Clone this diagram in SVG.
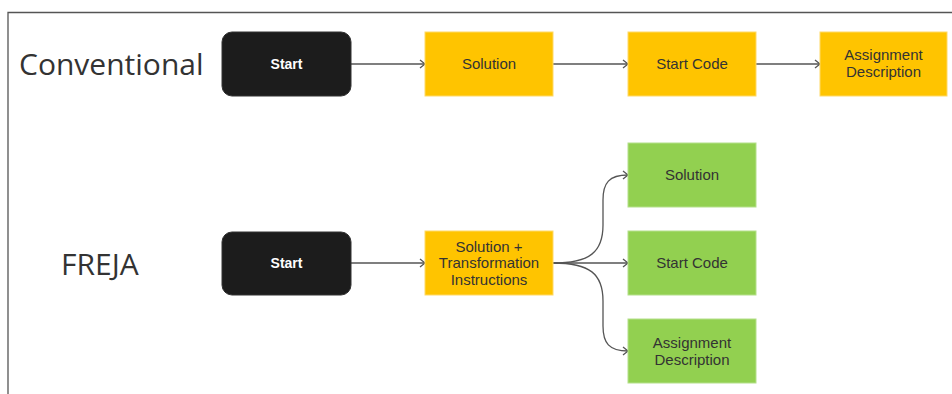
<svg xmlns="http://www.w3.org/2000/svg" width="952" height="394" viewBox="0 0 952 394">
<style>
.frame{stroke:#555;stroke-width:1.3;fill:none}
.title{font-family:"Open Sans","DejaVu Sans",sans-serif;font-size:30px;fill:#333}
.start{fill:#1c1c1c;stroke:#333;stroke-width:1}
.yel{fill:#ffc400;stroke:#ffd966;stroke-width:1}
.grn{fill:#92d050;stroke:#b4e08a;stroke-width:1}
.lbl{font-family:"Liberation Sans",Arial,sans-serif;font-size:15px;fill:#333;text-anchor:middle}
.wlbl{font-family:"Liberation Sans",Arial,sans-serif;font-size:14px;font-weight:bold;fill:#fff;text-anchor:middle}
.edge{stroke:#555;stroke-width:1.3;fill:none;marker-end:url(#arr)}
</style>
<defs>
<marker id="arr" markerWidth="10" markerHeight="10" refX="8" refY="5" orient="auto" markerUnits="userSpaceOnUse">
<path d="M3,1 L8,5 L3,9" fill="none" stroke="#555" stroke-width="1.3"/>
</marker>
</defs>
<rect width="952" height="394" fill="#fff"/>
<path class="frame" d="M8,394 L8,12.5 L952,12.5"/>
<text class="title" x="19" y="75">Conventional</text>
<text class="title" x="61" y="275">FREJA</text>
<g id="connectors">
<path class="edge" d="M351,64 L425,64"/>
<path class="edge" d="M553,64 L628,64"/>
<path class="edge" d="M756,64 L820,64"/>
<path class="edge" d="M351,263 L425,263"/>
<path class="edge" d="M553,263 L628,263"/>
<path class="edge" d="M553,263 C590,263 603,252 603,225 L603,200 C603,183 609,175 628,175"/>
<path class="edge" d="M553,263 C590,263 603,274 603,301 L603,326 C603,343 609,351 628,351"/>
</g>
<g id="c-start"><rect class="start" x="222" y="32" width="129" height="64" rx="10"/><text class="wlbl" x="286.5" y="69">Start</text></g>
<g id="c-solution"><rect class="yel" x="425" y="32" width="128" height="64"/><text class="lbl" x="489" y="69.3">Solution</text></g>
<g id="c-startcode"><rect class="yel" x="628" y="32" width="128" height="64"/><text class="lbl" x="692" y="69.3">Start Code</text></g>
<g id="c-assign"><rect class="yel" x="820" y="32" width="127" height="64"/><text class="lbl" x="883.5" y="60">Assignment</text><text class="lbl" x="883.5" y="77.3">Description</text></g>
<g id="f-start"><rect class="start" x="222" y="232" width="129" height="63" rx="10"/><text class="wlbl" x="286.5" y="268">Start</text></g>
<g id="f-soltrans"><rect class="yel" x="425" y="231" width="128" height="64"/><text class="lbl" x="489" y="251.5">Solution +</text><text class="lbl" x="489" y="268.3">Transformation</text><text class="lbl" x="489" y="285">Instructions</text></g>
<g id="f-solution"><rect class="grn" x="628" y="143" width="128" height="64"/><text class="lbl" x="692" y="180.3">Solution</text></g>
<g id="f-startcode"><rect class="grn" x="628" y="231" width="128" height="64"/><text class="lbl" x="692" y="268.3">Start Code</text></g>
<g id="f-assign"><rect class="grn" x="628" y="319" width="128" height="64"/><text class="lbl" x="692" y="347.5">Assignment</text><text class="lbl" x="692" y="364.8">Description</text></g>
</svg>
